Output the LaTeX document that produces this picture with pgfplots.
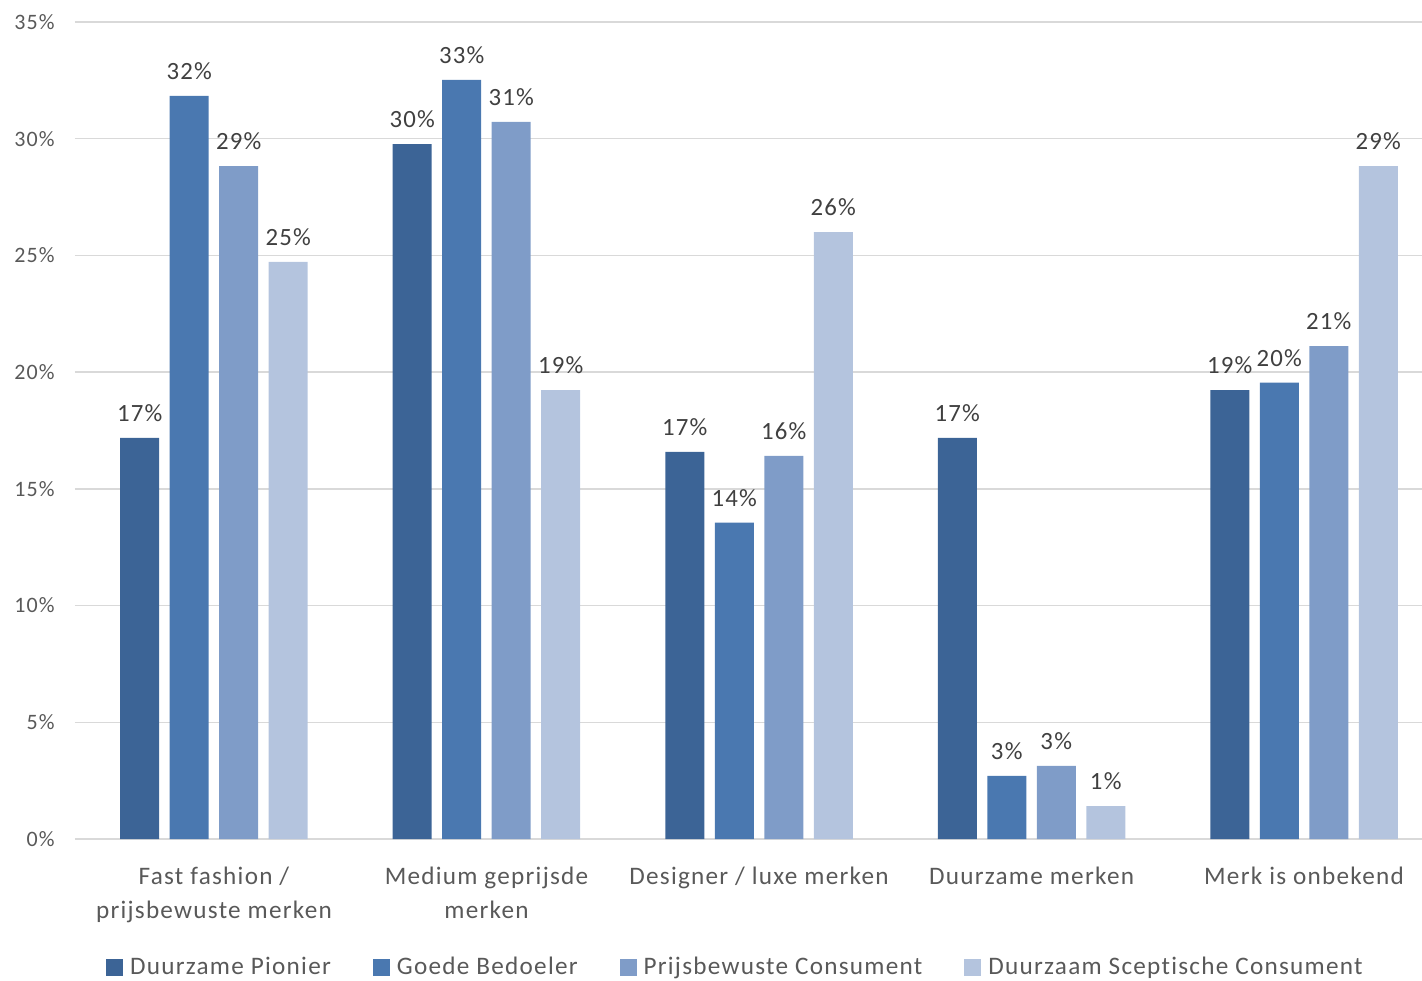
\documentclass[border=0pt]{standalone}
\usepackage{fontspec}
\setmainfont{Carlito}[LetterSpace=5, Ligatures=NoCommon]
\usepackage{pgfplots}
\pgfplotsset{compat=1.18}
\definecolor{sA}{HTML}{3C6496}
\definecolor{sB}{HTML}{4A78B0}
\definecolor{sC}{HTML}{7F9CC8}
\definecolor{sD}{HTML}{B4C4DE}
\definecolor{txt}{HTML}{595959}
\definecolor{lbl}{HTML}{404040}
\definecolor{grd}{HTML}{D9D9D9}
\begin{document}
\begin{tikzpicture}
\begin{axis}[
  at={(0,0)}, anchor=south west,
  scale only axis, width=673.5pt, height=408.5pt,
  font=\fontsize{12.6}{17}\selectfont,
  ybar=5.25pt, bar width=19.5pt,
  xmin=-0.51, xmax=4.433,
  ymin=0, ymax=35,
  ytick={0,5,...,35},
  yticklabel={\pgfmathprintnumber{\tick}\%},
  /pgf/number format/assume math mode=true,
  xtick={0,1,2,3,4},
  xticklabels={{Fast fashion /\\prijsbewuste merken},{Medium geprijsde\\merken},{Designer / luxe merken},{Duurzame merken},{Merk is onbekend}},
  xticklabel style={align=center, anchor=north, inner sep=0pt, yshift=-14pt, text=txt},
  yticklabel style={anchor=east, inner sep=0pt, xshift=-10pt, text=txt, font=\fontsize{11}{13}\selectfont},
  major tick length=0pt,
  axis line style={draw=none},
  ymajorgrids, grid style={grd, line width=0.75pt},
  clip=false,
  nodes near coords={\pgfmathprintnumber[fixed,precision=0]{\pgfplotspointmeta}\%},
  nodes near coords style={anchor=south, inner sep=0pt, yshift=8pt, text=lbl, font=\fontsize{12.4}{14}\selectfont},
  legend columns=4,
  legend style={at={(axis description cs:0.491,-0.157)}, anchor=center, draw=none, fill=none,
    font=\fontsize{12.6}{14}\selectfont, text=txt,
    /tikz/every odd column/.append style={column sep=1.5pt},
    /tikz/every even column/.append style={column sep=19pt}},
  legend image code/.code={\fill[#1,draw=none] (0pt,-4.25pt) rectangle (8.5pt,4.25pt);},
]
\addplot[fill=sA, draw=none] coordinates {(0,17.18)(1,29.77)(2,16.58)(3,17.18)(4,19.23)};
\addplot[fill=sB, draw=none] coordinates {(0,31.83)(1,32.52)(2,13.55)(3,2.70)(4,19.55)};
\addplot[fill=sC, draw=none] coordinates {(0,28.83)(1,30.72)(2,16.41)(3,3.13)(4,21.12)};
\addplot[fill=sD, draw=none] coordinates {(0,24.72)(1,19.23)(2,26.0)(3,1.41)(4,28.83)};
\legend{Duurzame Pionier, Goede Bedoeler, Prijsbewuste Consument, Duurzaam Sceptische Consument}
\end{axis}
\pgfresetboundingbox
\path (-37.5pt,-70.5pt) rectangle (673.5pt,419.5pt);
\end{tikzpicture}
\end{document}
